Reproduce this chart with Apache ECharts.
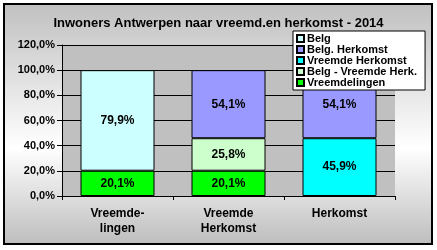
<!DOCTYPE html>
<html><head><meta charset="utf-8">
<script src="https://cdn.jsdelivr.net/npm/echarts@6/dist/echarts.min.js"></script>
<style>html,body{margin:0;padding:0;background:#fff}#c{width:437px;height:250px}</style>
</head><body><div id="c"></div>
<script>
var categories = ['Vreemde-\nlingen', 'Vreemde\nHerkomst', 'Herkomst'];
var vreemdelingen = [20.1, 20.1, null];
var belgVreemdeHerk = [null, 25.8, null];
var vreemdeHerkomst = [null, null, 45.9];
var belgHerkomst = [null, 54.1, 54.1];
var belg = [79.9, null, null];
var yTicks = [0, 20, 40, 60, 80, 100, 120];

var F = 'Arial, "Liberation Sans", sans-serif';
function pct(v){ return v.toFixed(1).replace('.', ',') + '%'; }
function mk(name, data, color){
  return {
    name: name, type: 'bar', stack: 's', data: data, barWidth: 74,
    itemStyle: {color: color, borderColor: '#000', borderWidth: 1},
    label: {show: true, position: 'inside', color: '#000', fontFamily: F, fontWeight: 'bold', fontSize: 12,
      formatter: function(p){ return p.value == null ? '' : pct(p.value); }},
    emphasis: {disabled: true}
  };
}
var chart = echarts.init(document.getElementById('c'), null, {renderer: 'canvas'});
chart.setOption({
  animation: false,
  backgroundColor: '#fff',
  graphic: [{
    type: 'rect', z: -10, silent: true,
    shape: {x: 4, y: 4, width: 428, height: 240},
    style: {
      fill: {type: 'linear', x: 0, y: 0, x2: 0, y2: 1, colorStops: [
        {offset: 0, color: '#c0c0c0'}, {offset: 0.6, color: '#ffffff'}, {offset: 1, color: '#bdbdbd'}]},
      stroke: '#000', lineWidth: 2
    }
  }],
  title: {
    text: 'Inwoners Antwerpen naar vreemd.en herkomst - 2014',
    left: 'center', top: 12,
    textStyle: {fontFamily: F, fontWeight: 'bold', fontSize: 13, color: '#000'}
  },
  legend: {
    orient: 'vertical', left: 293, top: 31, z: 10,
    backgroundColor: '#fff', borderColor: '#000', borderWidth: 1,
    padding: [2, 8, 2, 3], itemGap: 0, itemWidth: 7, itemHeight: 7, icon: 'rect',
    textStyle: {fontFamily: F, fontWeight: 'bold', fontSize: 11, lineHeight: 11, height: 11, color: '#000', padding: [0, 0, 0, -2]},
    data: ['Belg', 'Belg. Herkomst', 'Vreemde Herkomst', 'Belg - Vreemde Herk.', 'Vreemdelingen']
  },
  grid: {left: 62, right: 42, top: 45, bottom: 54, show: true, backgroundColor: '#c0c0c0', borderWidth: 0},
  xAxis: {
    type: 'category', data: categories,
    axisLine: {lineStyle: {color: '#000'}},
    axisTick: {show: true, alignWithLabel: false, length: 4, lineStyle: {color: '#000'}},
    axisLabel: {fontFamily: F, fontWeight: 'bold', fontSize: 12, color: '#000', lineHeight: 15, margin: 10}
  },
  yAxis: {
    type: 'value', min: yTicks[0], max: yTicks[yTicks.length - 1], interval: 20,
    axisLine: {show: true, lineStyle: {color: '#000'}},
    axisTick: {show: true, length: 5, lineStyle: {color: '#000'}},
    splitLine: {lineStyle: {color: '#000'}},
    axisLabel: {fontFamily: F, fontWeight: 'bold', fontSize: 11, color: '#000', margin: 7, formatter: pct}
  },
  series: [
    mk('Vreemdelingen', vreemdelingen, '#00ff00'),
    mk('Belg - Vreemde Herk.', belgVreemdeHerk, '#ccffcc'),
    mk('Vreemde Herkomst', vreemdeHerkomst, '#00ffff'),
    mk('Belg. Herkomst', belgHerkomst, '#9999ff'),
    mk('Belg', belg, '#ccffff')
  ]
});
</script></body></html>
